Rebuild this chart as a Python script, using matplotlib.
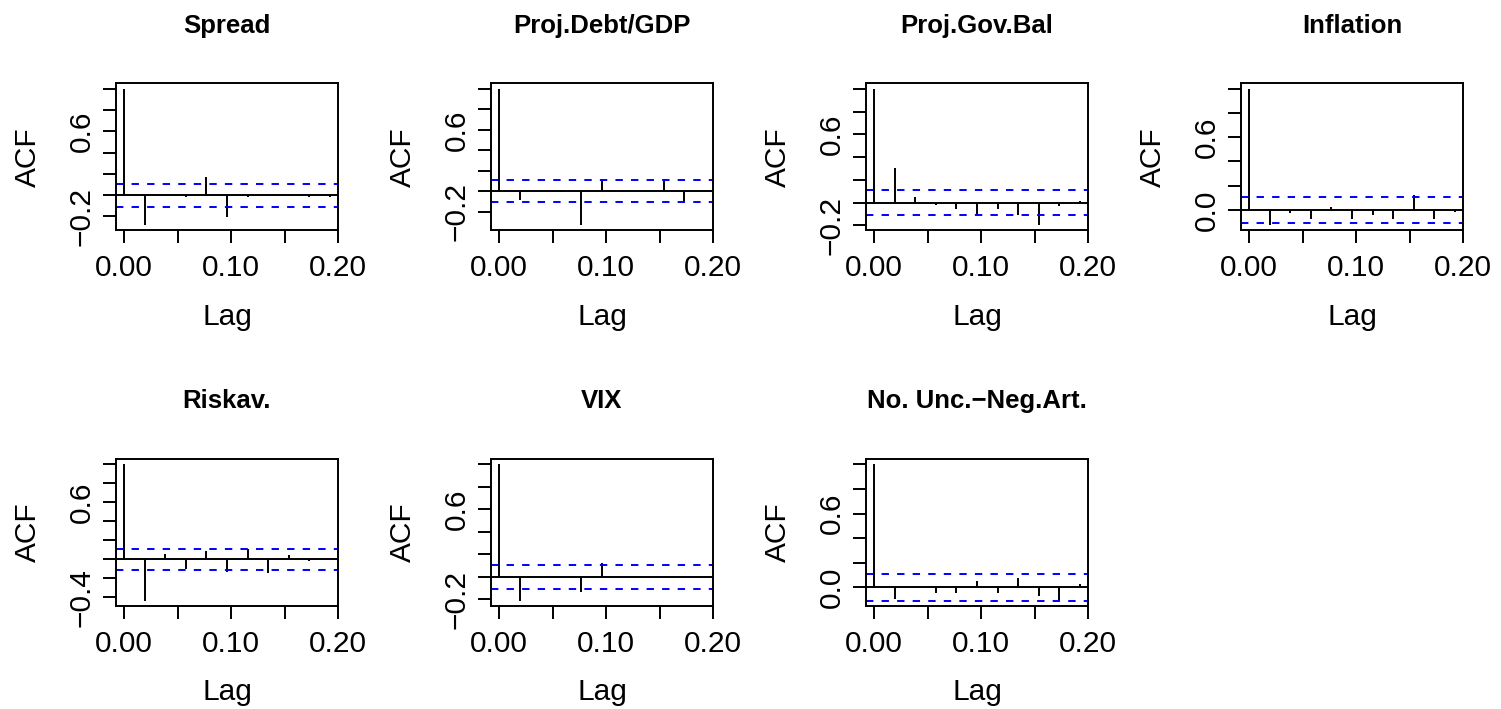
import matplotlib
matplotlib.use("Agg")
import matplotlib.pyplot as plt
import numpy as np

plt.rcParams['font.family'] = ['Liberation Sans', 'DejaVu Sans']
plt.rcParams['axes.unicode_minus'] = True

# ---- data -------------------------------------------------------------
titles = ["Spread", "Proj.Debt/GDP", "Proj.Gov.Bal", "Inflation",
          "Riskav.", "VIX", "No. Unc.\u2212Neg.Art."]
lag_weeks = [0, 1, 2, 3, 4, 5, 6, 7, 8, 9, 10]
frequency = 52
acf_spread = [1.0, -0.279, -0.01, -0.02, 0.168, -0.204, -0.02, -0.01, -0.01, -0.02, -0.015]
acf_debt = [1.0, -0.084, 0.01, -0.01, -0.327, 0.117, -0.01, 0.01, 0.117, -0.104, 0.01]
acf_govbal = [1.0, 0.30, 0.053, -0.018, -0.059, -0.108, -0.059, -0.111, -0.196, -0.029, 0.015]
acf_infl = [1.0, -0.123, -0.027, -0.077, 0.027, -0.071, -0.038, -0.077, 0.123, -0.077, -0.016]
acf_riskav = [1.0, -0.434, 0.052, -0.098, 0.091, -0.13, 0.1085, -0.147, 0.049, -0.014, 0.01]
acf_vix = [1.0, -0.212, -0.01, -0.015, -0.139, 0.124, -0.015, -0.01, -0.015, -0.015, -0.015]
acf_unc = [1.0, -0.10, 0.01, -0.049, -0.049, 0.054, -0.049, 0.073, -0.068, -0.109, 0.027]
acfs = [acf_spread, acf_debt, acf_govbal, acf_infl, acf_riskav, acf_vix, acf_unc]
ci = 0.109

xticks = [0.0, 0.05, 0.10, 0.15, 0.20]
xticklabels = ["0.00", "", "0.10", "", "0.20"]
yticks = [
    [-0.2, 0.0, 0.2, 0.4, 0.6, 0.8, 1.0],
    [-0.2, 0.0, 0.2, 0.4, 0.6, 0.8, 1.0],
    [-0.2, 0.0, 0.2, 0.4, 0.6, 0.8, 1.0],
    [0.0, 0.2, 0.4, 0.6, 0.8, 1.0],
    [-0.4, -0.2, 0.0, 0.2, 0.4, 0.6, 0.8, 1.0],
    [-0.2, 0.0, 0.2, 0.4, 0.6, 0.8, 1.0],
    [0.0, 0.2, 0.4, 0.6, 0.8, 1.0],
]
ylabel_shown = [
    ["\u22120.2", "0.6"], ["\u22120.2", "0.6"], ["\u22120.2", "0.6"],
    ["0.0", "0.6"], ["\u22120.4", "0.6"], ["\u22120.2", "0.6"], ["0.0", "0.6"],
]

# ---- layout -----------------------------------------------------------
W, H = 1501, 709
fig = plt.figure(figsize=(W / 100, H / 100), dpi=100)
col_left = [116, 491, 866, 1241]
box_w = 222
row_top = [83.3, 459]
box_h = 147

LW = 1.4
lags = np.array(lag_weeks) / frequency

for i, (title, acf) in enumerate(zip(titles, acfs)):
    r, c = divmod(i, 4)
    left = col_left[c] / W
    bottom = 1 - (row_top[r] + box_h) / H
    ax = fig.add_axes([left, bottom, box_w / W, box_h / H])
    acf = np.array(acf)
    lo = min(acf.min(), -ci)
    hi = max(acf.max(), ci)
    rng = hi - lo
    ax.set_ylim(lo - 0.04 * rng, hi + 0.04 * rng)
    xr = lags.max() - lags.min()
    ax.set_xlim(lags.min() - 0.04 * xr, lags.max() + 0.04 * xr)

    ax.vlines(lags, 0, acf, colors='black', linewidth=LW)
    ax.axhline(0, color='black', linewidth=LW)
    for v in (ci, -ci):
        ax.axhline(v, color='#0000FF', linewidth=LW, linestyle=(0, (3.8, 4.2)))

    for s in ax.spines.values():
        s.set_linewidth(LW)
        s.set_color('black')

    ax.set_xticks(xticks)
    ax.set_xticklabels(xticklabels)
    yt = yticks[i]
    labs = []
    for v in yt:
        txt = ("\u2212" if v < 0 else "") + f"{abs(v):.1f}"
        labs.append(txt if txt in ylabel_shown[i] else "")
    ax.set_yticks(yt)
    ax.set_yticklabels(labs, rotation=90, va='center')
    ax.tick_params(axis='both', direction='out', length=9.4, width=LW,
                   labelsize=21.5, colors='black')
    ax.tick_params(axis='x', pad=8.0)
    ax.tick_params(axis='y', pad=5.0)

    ax.text(0.5, 1.345, title, transform=ax.transAxes, ha='center',
            va='baseline', fontsize=18.5, fontweight='bold')
    ax.text(0.5, (230.5 - 325) / box_h, "Lag", transform=ax.transAxes,
            ha='center', va='baseline', fontsize=21.5)
    ax.text((28 - 116) / box_w, 0.5, "ACF", transform=ax.transAxes,
            ha='center', va='center', rotation=90, fontsize=21.5)

fig.savefig("out.png", dpi=100)
